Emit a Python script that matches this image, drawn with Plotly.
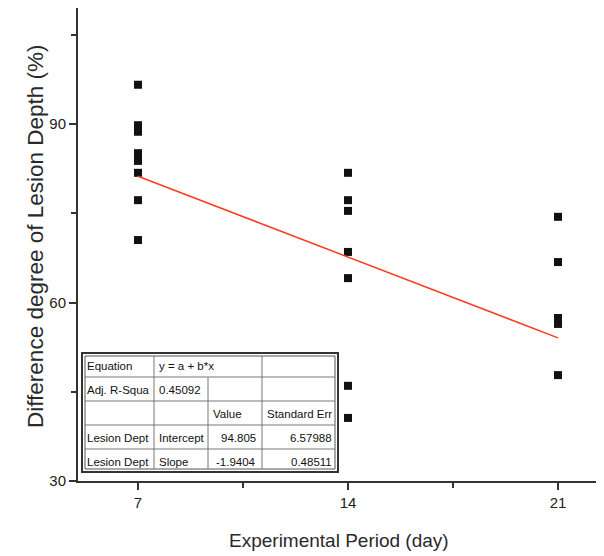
import plotly.graph_objects as go

# ---- data ----
days_7 = [7] * 8
vals_7 = [96.6, 89.8, 88.7, 85.1, 83.8, 81.8, 77.2, 70.5]
days_14 = [14] * 7
vals_14 = [81.8, 77.2, 75.4, 68.5, 64.1, 46.0, 40.6]
days_21 = [21] * 5
vals_21 = [74.4, 66.8, 57.4, 56.4, 47.8]

fit_intercept = 94.805
fit_slope = -1.9404
fit_x = [7, 21]

x_ticks = [7, 14, 21]
y_ticks = [30, 60, 90]

x_title = "Experimental Period (day)"
y_title = "Difference degree of Lesion Depth (%)"

table_rows = [
    ["Equation", "y = a + b*x", None, ""],
    ["Adj. R-Squa", "0.45092", "", ""],
    ["", "", "Value", "Standard Err"],
    ["Lesion Dept", "Intercept", "94.805", "6.57988"],
    ["Lesion Dept", "Slope", "-1.9404", "0.48511"],
]

# ---- figure ----
xs = days_7 + days_14 + days_21
ys = vals_7 + vals_14 + vals_21
fit_y = [fit_intercept + fit_slope * v for v in fit_x]

fig = go.Figure()
fig.add_trace(go.Scatter(x=xs, y=ys, mode="markers",
                         marker=dict(symbol="square", size=8, color="#111111"),
                         showlegend=False, cliponaxis=False))
fig.add_trace(go.Scatter(x=fit_x, y=fit_y, mode="lines",
                         line=dict(color="#ff3b1f", width=1.5),
                         showlegend=False))

# page offset of the figure (browser body margin)
OFF = 8
W, H = 604 - OFF, 556 - OFF
# plot area in page pixels: x 78..600, y 8..481
PL, PR, PT, PB = 78, 600, 8, 481
L, R, T, B = PL - OFF, OFF + W - PR, PT - OFF, OFF + H - PB
pw, ph = W - L - R, H - T - B


def px(x):
    return (x - PL) / pw


def py(y):
    return (PB - y) / ph


shapes = []
annotations = []
# table geometry (page pixels)
tx0, tx1, ty0, ty1 = 82, 338, 353, 472
col_x = [82, 154, 208, 262, 338]
row_y = [353, 377, 401, 425, 449, 472]
shapes.append(dict(type="rect", xref="paper", yref="paper", layer="above",
                   x0=px(tx0), x1=px(tx1), y0=py(ty1), y1=py(ty0),
                   fillcolor="white", line=dict(color="#333333", width=2)))
shapes.append(dict(type="rect", xref="paper", yref="paper", layer="above",
                   x0=px(tx0 + 3), x1=px(tx1 - 3), y0=py(ty1 - 3), y1=py(ty0 + 3),
                   fillcolor="rgba(0,0,0,0)", line=dict(color="#555555", width=1)))
for ry in row_y[1:-1]:
    shapes.append(dict(type="line", xref="paper", yref="paper", layer="above",
                       x0=px(tx0 + 3), x1=px(tx1 - 3), y0=py(ry), y1=py(ry),
                       line=dict(color="#777777", width=1)))
for i, cx in enumerate(col_x[1:-1], start=1):
    top = row_y[0] + 3
    if i == 2:
        top = row_y[1]
    shapes.append(dict(type="line", xref="paper", yref="paper", layer="above",
                       x0=px(cx), x1=px(cx), y0=py(ty1 - 3), y1=py(top),
                       line=dict(color="#777777", width=1)))

for r, row in enumerate(table_rows):
    yc = (row_y[r] + row_y[r + 1]) / 2 + 1
    for c, txt in enumerate(row):
        if not txt:
            continue
        if c == 2 and r >= 3:
            xpos, anchor = col_x[3] - 4, "right"
        elif c == 3 and r >= 3:
            xpos, anchor = col_x[4] - 4, "right"
        else:
            xpos, anchor = col_x[c] + 3, "left"
        annotations.append(dict(xref="paper", yref="paper", x=px(xpos), y=py(yc),
                                text=txt, showarrow=False, xanchor=anchor,
                                yanchor="middle",
                                font=dict(family="Liberation Sans, Arial", size=11.5,
                                          color="#111111")))

# axis titles as annotations (precise placement)
annotations.append(dict(xref="paper", yref="paper", x=px(339), y=py(540),
                        text=x_title, showarrow=False, xanchor="center",
                        yanchor="middle",
                        font=dict(family="Liberation Sans, Arial", size=19,
                                  color="#2a2a2a")))
annotations.append(dict(xref="paper", yref="paper", x=px(35), y=py(236),
                        text=y_title, showarrow=False, xanchor="center",
                        yanchor="middle", textangle=-90,
                        font=dict(family="Liberation Sans, Arial", size=22.5,
                                  color="#2a2a2a")))

fig.update_layout(
    width=W, height=H,
    margin=dict(l=L, r=R, t=T, b=B, pad=0, autoexpand=False),
    paper_bgcolor="white", plot_bgcolor="white",
    font=dict(family="Liberation Sans, Arial", color="#222222"),
    shapes=shapes, annotations=annotations,
    xaxis=dict(range=[5, 22.4], tickmode="array", tickvals=x_ticks,
               ticktext=[str(v) for v in x_ticks], automargin=False,
               ticks="outside", ticklen=7, tickwidth=1.5, tickcolor="#333333",
               minor=dict(ticks="outside", ticklen=5, tickwidth=1.5,
                          tickcolor="#333333", tickvals=[10.5, 17.5]),
               showline=True, linecolor="#333333", linewidth=2,
               showgrid=False, zeroline=False,
               tickfont=dict(size=15, color="#222222")),
    yaxis=dict(range=[30, 109.5], tickmode="array", tickvals=y_ticks,
               ticktext=[str(v) for v in y_ticks], automargin=False,
               ticks="outside", ticklen=7, tickwidth=1.5, tickcolor="#333333",
               minor=dict(ticks="outside", ticklen=5, tickwidth=1.5,
                          tickcolor="#333333", tickvals=[45, 75, 105]),
               showline=True, linecolor="#333333", linewidth=2,
               showgrid=False, zeroline=False,
               tickfont=dict(size=15, color="#222222")),
)

fig.write_html("out.html")
